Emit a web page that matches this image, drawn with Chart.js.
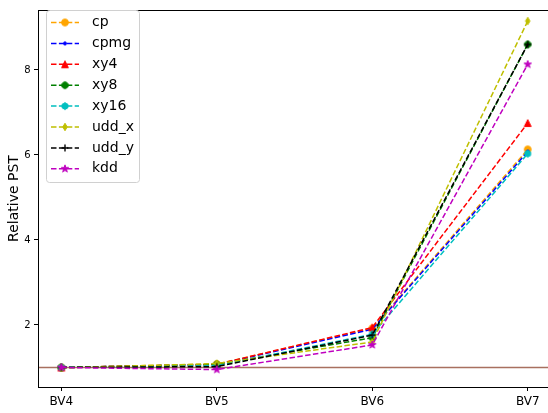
<!DOCTYPE html>
<html>
<head>
<meta charset="utf-8">
<script src="https://cdn.jsdelivr.net/npm/chart.js@4"></script>
<style>
  html, body { margin: 0; padding: 0; background: #fff; overflow: hidden; }
  #wrap { width: 548px; height: 413px; overflow: hidden; }
  canvas { display: block; }
</style>
</head>
<body>
<div id="wrap"><canvas id="chart" width="555" height="413"></canvas></div>
<script>
// categories and series
var categories = ["BV4", "BV5", "BV6", "BV7"];
var cp    = [1.00, 1.08, 1.92, 6.13];
var cpmg  = [1.00, 1.07, 1.90, 6.08];
var xy4   = [1.00, 1.07, 1.94, 6.75];
var xy8   = [1.00, 1.07, 1.70, 8.60];
var xy16  = [1.00, 1.04, 1.78, 6.03];
var udd_x = [0.99, 1.09, 1.60, 9.15];
var udd_y = [1.00, 1.02, 1.76, 8.60];
var kdd   = [1.00, 0.95, 1.53, 8.13];
var yTicks = [2, 4, 6, 8];
var baseline = 1;

var FONT = "'DejaVu Sans', sans-serif";
var DASH = [5.5, 2.4];

// matplotlib-like markers drawn onto small canvases
function makeMarker(kind, color) {
    var c = document.createElement("canvas");
    c.width = 14; c.height = 14;
    var g = c.getContext("2d");
    var r = 3.4;
    g.translate(7, 7);
    g.fillStyle = color;
    g.strokeStyle = color;
    g.lineWidth = 1;
    g.beginPath();
    if (kind == "o") {
        g.arc(0, 0, r, 0, Math.PI * 2);
    } else if (kind == ".") {
        g.arc(0, 0, 1.5, 0, Math.PI * 2);
    } else if (kind == "^") {
        g.moveTo(0, -r); g.lineTo(r, r); g.lineTo(-r, r);
    } else if (kind == "8" || kind == "h") {
        var n = kind == "8" ? 8 : 6;
        var off = kind == "8" ? Math.PI / 8 : -Math.PI / 2;
        for (var i = 0; i < n; i++) {
            var a = off + i * 2 * Math.PI / n;
            g.lineTo(r * Math.cos(a), r * Math.sin(a));
        }
    } else if (kind == "d") {
        g.moveTo(0, -r * 1.1); g.lineTo(r * 0.65, 0); g.lineTo(0, r * 1.1); g.lineTo(-r * 0.65, 0);
    } else if (kind == "*") {
        for (var j = 0; j < 10; j++) {
            var rr = j % 2 == 0 ? r * 1.15 : r * 0.45;
            var b = -Math.PI / 2 + j * Math.PI / 5;
            g.lineTo(rr * Math.cos(b), rr * Math.sin(b));
        }
    } else if (kind == "+") {
        g.lineWidth = 1.4;
        g.moveTo(-r, 0); g.lineTo(r, 0);
        g.moveTo(0, -r); g.lineTo(0, r);
        g.stroke();
        return c;
    }
    g.closePath();
    g.fill();
    g.stroke();
    return c;
}

var seriesNames = ["cp", "cpmg", "xy4", "xy8", "xy16", "udd_x", "udd_y", "kdd"];
var seriesData = [cp, cpmg, xy4, xy8, xy16, udd_x, udd_y, kdd];
var seriesColors = ["#FFA500", "#0000FF", "#FF0000", "#008000", "#00BFBF", "#BFBF00", "#000000", "#BF00BF"];
var seriesMarkers = ["o", ".", "^", "8", "h", "d", "+", "*"];

var datasets = seriesNames.map(function (name, i) {
    return {
        label: name,
        data: seriesData[i].map(function (v, k) { return { x: k, y: v }; }),
        borderColor: seriesColors[i],
        backgroundColor: seriesColors[i],
        borderWidth: 1.5,
        borderDash: DASH,
        pointStyle: makeMarker(seriesMarkers[i], seriesColors[i]),
        pointRadius: 4,
        tension: 0,
        order: seriesNames.length - i
    };
});

// reference line + frame
var framePlugin = {
    id: "frame",
    beforeDatasetsDraw: function (chart) {
        var ctx = chart.ctx, a = chart.chartArea;
        var y = chart.scales.y.getPixelForValue(baseline);
        ctx.save();
        ctx.strokeStyle = "#a8705f";
        ctx.lineWidth = 1.5;
        ctx.beginPath();
        ctx.moveTo(a.left, y); ctx.lineTo(a.right, y);
        ctx.stroke();
        ctx.strokeStyle = "#000";
        ctx.lineWidth = 1;
        ctx.strokeRect(a.left + 0.5, a.top + 0.5, a.right - a.left + 10, a.bottom - a.top);
        ctx.restore();
    }
};

// legend drawn like matplotlib's
var legendPlugin = {
    id: "mplLegend",
    afterDraw: function (chart) {
        var ctx = chart.ctx;
        var x0 = 46.5, y0 = 10.5, w = 93, h = 172, rad = 3;
        ctx.save();
        ctx.beginPath();
        ctx.moveTo(x0 + rad, y0);
        ctx.arcTo(x0 + w, y0, x0 + w, y0 + h, rad);
        ctx.arcTo(x0 + w, y0 + h, x0, y0 + h, rad);
        ctx.arcTo(x0, y0 + h, x0, y0, rad);
        ctx.arcTo(x0, y0, x0 + w, y0, rad);
        ctx.closePath();
        ctx.fillStyle = "rgba(255,255,255,0.8)";
        ctx.fill();
        ctx.strokeStyle = "#d0d0d0";
        ctx.lineWidth = 1;
        ctx.stroke();
        ctx.font = "14px " + FONT;
        ctx.textBaseline = "middle";
        seriesNames.forEach(function (name, i) {
            var yy = 22.5 + i * 20.9;
            ctx.strokeStyle = seriesColors[i];
            ctx.lineWidth = 1.5;
            ctx.setLineDash(DASH);
            ctx.beginPath();
            ctx.moveTo(51, yy); ctx.lineTo(79, yy);
            ctx.stroke();
            ctx.setLineDash([]);
            ctx.drawImage(datasets[i].pointStyle, 65 - 7, yy - 7);
            ctx.fillStyle = "#000";
            ctx.fillText(name, 92, yy);
        });
        ctx.restore();
    }
};

new Chart(document.getElementById("chart").getContext("2d"), {
    type: "line",
    data: { datasets: datasets },
    options: {
        responsive: false,
        animation: false,
        layout: { padding: { top: 10, right: 0, left: 0, bottom: 0 } },
        plugins: { legend: { display: false }, tooltip: { enabled: false } },
        scales: {
            x: {
                type: "linear",
                min: -0.15,
                max: 3.14,
                afterBuildTicks: function (s) {
                    s.ticks = categories.map(function (c, k) { return { value: k }; });
                },
                afterFit: function (s) {
                    s.height = 26;
                    s.paddingLeft = 0;
                    s.paddingRight = 0;
                },
                ticks: {
                    callback: function (v) { return categories[v]; },
                    font: { family: FONT, size: 12 },
                    color: "#000",
                    padding: 3.5,
                    maxRotation: 0
                },
                grid: { drawOnChartArea: false, drawTicks: true, tickLength: 4, color: "#000" },
                border: { display: true, color: "#000" }
            },
            y: {
                min: 0.54,
                max: 9.41,
                afterBuildTicks: function (s) {
                    s.ticks = yTicks.map(function (v) { return { value: v }; });
                },
                afterFit: function (s) {
                    s.width = 38;
                    s.paddingTop = 0;
                    s.paddingBottom = 0;
                },
                ticks: {
                    font: { family: FONT, size: 10 },
                    color: "#000",
                    padding: 3.5
                },
                grid: { drawOnChartArea: false, drawTicks: true, tickLength: 4, color: "#000" },
                border: { display: true, color: "#000" },
                title: {
                    display: true,
                    text: "Relative PST",
                    font: { family: FONT, size: 14 },
                    color: "#000",
                    padding: { top: 5.5, bottom: 0 }
                }
            }
        }
    },
    plugins: [framePlugin, legendPlugin]
});
</script>
</body>
</html>
